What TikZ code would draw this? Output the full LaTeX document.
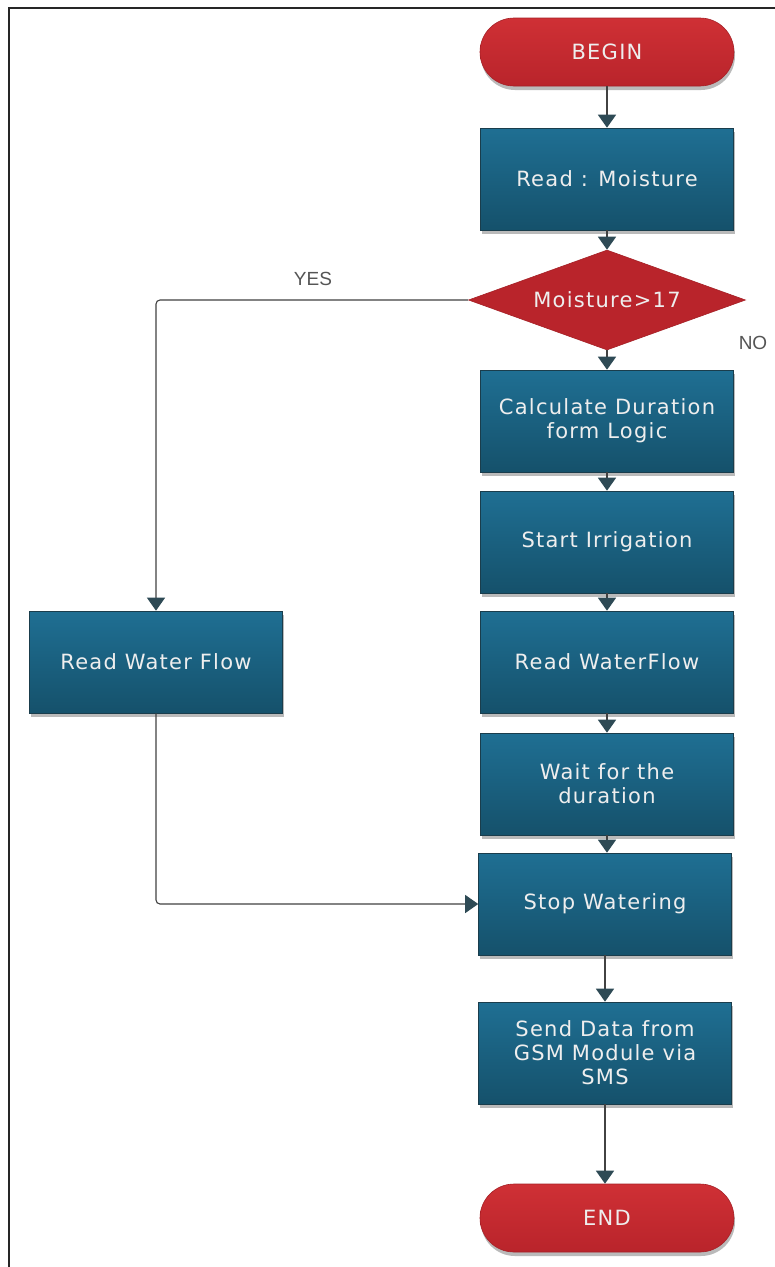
\documentclass[tikz,border=0pt]{standalone}
\usepackage{fontspec}
\setmainfont{Liberation Sans}
\newfontfamily\boxfont[LetterSpace=6]{DejaVu Sans}
\usetikzlibrary{shapes.geometric,arrows.meta,shadows}
\definecolor{boxtop}{HTML}{1F6F93}
\definecolor{boxbot}{HTML}{15516B}
\definecolor{boxedge}{HTML}{1A3D4C}
\definecolor{redtop}{HTML}{CF3035}
\definecolor{redbot}{HTML}{B9242B}
\definecolor{rededge}{HTML}{A52026}
\definecolor{arrowc}{HTML}{2E4A55}
\definecolor{linec}{HTML}{424242}
\definecolor{labelc}{HTML}{555555}
\definecolor{textc}{HTML}{EEEEEE}
\begin{document}
\begin{tikzpicture}[x=1pt,y={(0pt,-1pt)},
  procbox/.style={rectangle, minimum width=253pt, minimum height=102pt,
    top color=boxtop, bottom color=boxbot, draw=boxedge, line width=0.6pt,
    text=textc, font=\boxfont\fontsize{21}{24}\selectfont, align=center, inner sep=0pt,
    drop shadow={shadow xshift=1pt, shadow yshift=-4pt, opacity=0.45, fill=black!60}},
  terminal/.style={rectangle, rounded corners=34pt, minimum width=254pt, minimum height=68pt,
    top color=redtop, bottom color=redbot, draw=rededge, line width=0.6pt,
    text=textc, font=\boxfont\fontsize{21}{24}\selectfont, inner sep=0pt,
    drop shadow={shadow xshift=1pt, shadow yshift=-4pt, opacity=0.45, fill=black!60}},
  decision/.style={diamond, minimum width=277pt, minimum height=100pt, shape aspect=2.77,
    inner sep=0pt, fill=redbot, draw=rededge, line width=0.6pt,
    text=textc, font=\boxfont\fontsize{21}{24}\selectfont},
  flow/.style={draw=linec, line width=1.5pt, -{Triangle[width=18pt,length=13pt,color=arrowc]}},
  lbl/.style={text=labelc, font=\fontsize{19}{22}\selectfont, inner sep=0pt}
]
\useasboundingbox (0,0) rectangle (775,1267);
\fill[white] (0,0) rectangle (775,1267);
% frame
\draw[line width=1.3pt, black!85] (9,1267) -- (9,8) -- (775,8);

\node[terminal] (begin) at (607,52) {BEGIN};
\node[procbox] (read) at (607,179) {Read : Moisture};
\node[decision] (dec) at (607,300) {Moisture>17};
\node[procbox] (calc) at (607,421) {Calculate Duration\\form Logic};
\node[procbox] (start) at (607,542) {Start Irrigation};
\node[procbox] (rwf) at (607,662) {Read WaterFlow};
\node[procbox] (wait) at (607,784) {Wait for the\\duration};
\node[procbox] (stop) at (605,904) {Stop Watering};
\node[procbox] (send) at (605,1053) {Send Data from\\GSM Module via\\SMS};
\node[terminal] (end) at (607,1218) {END};
\node[procbox] (left) at (156,662) {Read Water Flow};

\node[lbl] (yes) at (313,279) {YES};
\node[lbl] (no) at (753,343) {NO};

\draw[flow] (begin) -- (read);
\draw[flow] (read) -- (dec);
\draw[flow] (dec) -- (calc);
\draw[flow] (calc) -- (start);
\draw[flow] (start) -- (rwf);
\draw[flow] (rwf) -- (wait);
\draw[flow] (wait.south) -- (wait.south |- stop.north);
\draw[flow] (stop) -- (send);
\draw[flow] (send.south) -- (send.south |- end.north);
\draw[flow, line width=1.1pt, rounded corners=4pt] (dec.west) -| (left.north);
\draw[flow, line width=1.1pt, rounded corners=4pt] (left.south) |- (stop.west);
\end{tikzpicture}
\end{document}
